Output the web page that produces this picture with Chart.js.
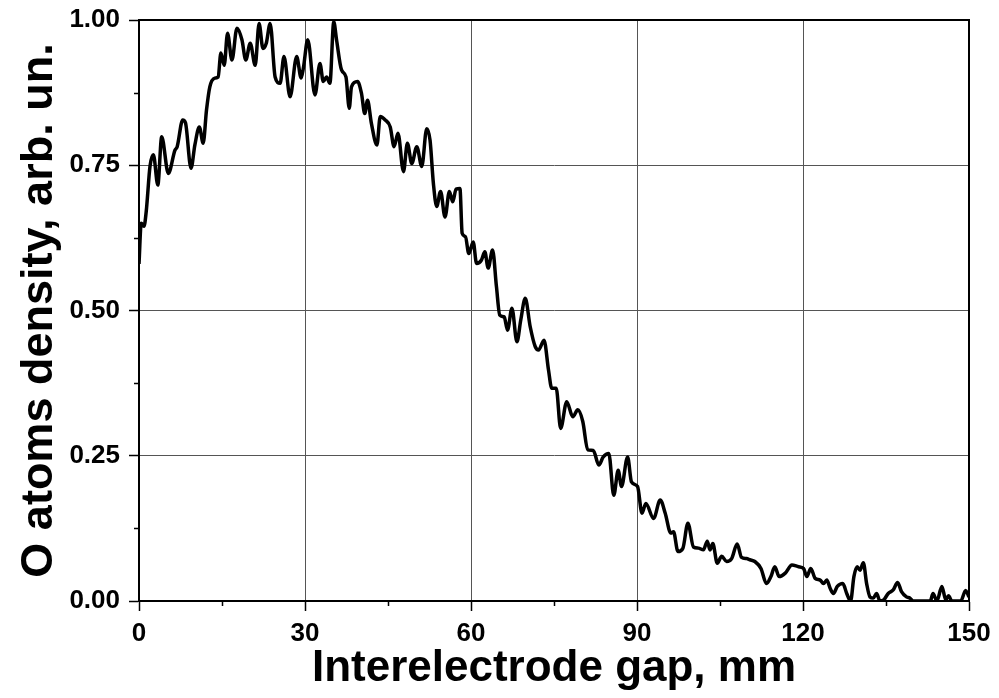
<!DOCTYPE html>
<html>
<head>
<meta charset="utf-8">
<script src="https://cdn.jsdelivr.net/npm/chart.js@4/dist/chart.umd.min.js"></script>
<style>
    html, body { margin: 0; padding: 0; background: #fff; }
    #wrap { width: 999px; height: 698px; }
</style>
</head>
<body>
<div id="wrap"><canvas id="gapChart"></canvas></div>
<script>
// gap position, mm
const gapMm = [
    0, 0.4, 0.9, 1.3, 2.0, 2.6, 3.4, 4.1, 5.3, 6.5, 6.9, 7.9, 8.4, 9.4, 10.1, 10.9, 11.6, 12.2, 12.8, 13.7,
    14.3, 14.8, 15.4, 16.0, 16.8, 17.7, 18.6, 19.3, 20.1, 21.0, 21.7, 22.4, 23.0, 23.7, 24.6, 25.5, 26.2, 27.3, 28.5, 29.3,
    29.7, 30.5, 31.8, 32.7, 33.3, 33.9, 34.5, 35.2, 35.7, 36.6, 37.4, 38.0, 38.4, 39.5, 40.2, 40.8, 41.3, 42.0, 43.0, 43.6,
    44.5, 45.4, 46.1, 46.8, 47.8, 48.5, 49.3, 50.2, 51.1, 52.0, 52.6, 53.2, 53.8, 54.5, 55.3, 56.1, 56.7, 57.3, 58.0, 58.4,
    59.0, 59.6, 60.4, 61.0, 61.9, 62.5, 63.1, 63.9, 64.6, 65.2, 66.0, 66.6, 67.4, 68.3, 69.0, 69.8, 70.7, 71.6, 72.2, 73.2,
    74.0, 74.6, 75.4, 76.2, 77.3, 78.4, 79.3, 80.2, 81.1, 82.1, 83.1, 83.9, 84.9, 85.8, 86.6, 87.2, 88.3, 89.0, 90.1, 90.9,
    91.6, 93.0, 94.2, 95.1, 96.1, 96.6, 97.4, 98.3, 99.2, 100.2, 101.1, 102.0, 102.7, 103.2, 103.7, 104.5, 105.3, 106.2, 107.1, 108.1,
    108.9, 109.8, 110.4, 111.3, 112.4, 113.4, 114.2, 114.9, 115.7, 116.8, 118.0, 119.2, 120.1, 120.7, 121.4, 122.2, 123.1, 123.7, 124.3, 124.9,
    125.5, 126.2, 127.2, 127.9, 128.6, 129.2, 129.8, 130.3, 130.9, 131.5, 132.1, 132.7, 133.3, 133.9, 134.6, 135.4, 136.3, 137.1, 137.8, 138.7,
    139.3, 139.9, 143.0, 143.5, 144.2, 145.1, 145.8, 146.3, 146.9, 148.5, 149.4, 150
];

// O atoms density, arb. un.
const density = [
    0.58, 0.65, 0.645, 0.67, 0.749, 0.768, 0.716, 0.799, 0.736, 0.776, 0.782, 0.828, 0.823, 0.745, 0.785, 0.816, 0.788, 0.845, 0.885, 0.900,
    0.902, 0.943, 0.922, 0.977, 0.931, 0.986, 0.966, 0.931, 0.960, 0.922, 0.994, 0.951, 0.960, 0.994, 0.902, 0.891, 0.937, 0.868, 0.937, 0.900,
    0.917, 0.966, 0.871, 0.925, 0.894, 0.902, 0.891, 0.997, 0.966, 0.914, 0.902, 0.848, 0.885, 0.894, 0.874, 0.839, 0.862, 0.822, 0.785, 0.834,
    0.828, 0.816, 0.782, 0.805, 0.739, 0.788, 0.753, 0.782, 0.748, 0.813, 0.793, 0.719, 0.679, 0.705, 0.661, 0.705, 0.687, 0.709, 0.710, 0.633,
    0.627, 0.598, 0.618, 0.581, 0.587, 0.601, 0.573, 0.604, 0.541, 0.492, 0.489, 0.466, 0.504, 0.446, 0.484, 0.521, 0.472, 0.438, 0.432, 0.449,
    0.398, 0.366, 0.366, 0.297, 0.343, 0.317, 0.329, 0.309, 0.260, 0.259, 0.234, 0.248, 0.254, 0.182, 0.225, 0.197, 0.248, 0.205, 0.197, 0.151,
    0.168, 0.142, 0.174, 0.151, 0.117, 0.119, 0.085, 0.091, 0.134, 0.093, 0.091, 0.088, 0.103, 0.088, 0.099, 0.065, 0.077, 0.068, 0.073, 0.098,
    0.075, 0.073, 0.071, 0.068, 0.056, 0.030, 0.042, 0.059, 0.042, 0.048, 0.062, 0.059, 0.056, 0.042, 0.056, 0.039, 0.036, 0.030, 0.036, 0.022,
    0.013, 0.025, 0.030, 0.013, 0.0, 0.042, 0.059, 0.053, 0.066, 0.030, 0.007, 0.005, 0.013, 0.0, 0.002, 0.013, 0.019, 0.032, 0.016, 0.007,
    0.005, 0.0, 0.0, 0.013, 0.0, 0.025, 0.002, 0.009, 0.0, 0.0, 0.018, 0.007
];

const xTicks = [0, 30, 60, 90, 120, 150];
const xMinorTicks = [15, 45, 75, 105, 135];
const yTicks = [0, 0.25, 0.5, 0.75, 1];
const yMinorTicks = [0.125, 0.375, 0.625, 0.875];

const FONT = 'Arial, "Liberation Sans", sans-serif';

// frame + minor ticks, like an Origin plot
const framePlugin = {
    id: 'frame',
    afterDraw(chart) {
        const { ctx, chartArea: a, scales } = chart;
        ctx.save();
        ctx.strokeStyle = '#000';
        ctx.lineWidth = 1.5;
        ctx.beginPath();
        xMinorTicks.forEach(v => {
            const px = Math.round(scales.x.getPixelForValue(v)) + 0.5;
            ctx.moveTo(px, a.bottom);
            ctx.lineTo(px, a.bottom + 5);
        });
        yMinorTicks.forEach(v => {
            const py = Math.round(scales.y.getPixelForValue(v)) + 0.5;
            ctx.moveTo(a.left, py);
            ctx.lineTo(a.left - 5, py);
        });
        ctx.stroke();
        ctx.lineWidth = 2;
        ctx.strokeRect(a.left, a.top, a.right - a.left, a.bottom - a.top);
        ctx.restore();
    }
};

new Chart(document.getElementById('gapChart'), {
    type: 'line',
    data: {
        datasets: [{
            data: gapMm.map((x, i) => ({ x, y: density[i] })),
            borderColor: '#000',
            borderWidth: 3.5,
            pointRadius: 0,
            cubicInterpolationMode: 'monotone',
            fill: false
        }]
    },
    options: {
        responsive: true,
        maintainAspectRatio: false,
        animation: false,
        layout: { padding: { top: 20, right: 30, left: 0, bottom: 0 } },
        plugins: {
            legend: { display: false },
            tooltip: { enabled: false }
        },
        scales: {
            x: {
                type: 'linear',
                min: 0,
                max: 150,
                afterBuildTicks: s => { s.ticks = xTicks.map(v => ({ value: v })); },
                afterFit: s => { s.height = 97; s.paddingLeft = 0; s.paddingRight = 0; },
                grid: { color: '#555', lineWidth: 1, tickLength: 10, tickColor: '#000', tickWidth: 1.5 },
                border: { color: '#000', width: 2 },
                ticks: { color: '#000', padding: 7, font: { family: FONT, size: 26, weight: 'bold' } },
                title: {
                    display: true,
                    text: 'Interelectrode gap, mm',
                    color: '#000',
                    padding: { top: 0, bottom: 3 },
                    font: { family: FONT, size: 44, weight: 'bold' }
                }
            },
            y: {
                type: 'linear',
                min: 0,
                max: 1,
                afterBuildTicks: s => { s.ticks = yTicks.map(v => ({ value: v })); },
                afterFit: s => { s.width = 139; s.paddingTop = 0; s.paddingBottom = 0; },
                grid: { color: '#555', lineWidth: 1, tickLength: 10, tickColor: '#000', tickWidth: 1.5 },
                border: { color: '#000', width: 2 },
                ticks: {
                    color: '#000',
                    padding: 9,
                    font: { family: FONT, size: 26, weight: 'bold' },
                    callback: v => v.toFixed(2)
                },
                title: {
                    display: true,
                    text: 'O atoms density, arb. un.',
                    color: '#000',
                    padding: { top: 13, bottom: 0 },
                    font: { family: FONT, size: 45, weight: 'bold' }
                }
            }
        }
    },
    plugins: [framePlugin]
});
</script>
</body>
</html>
